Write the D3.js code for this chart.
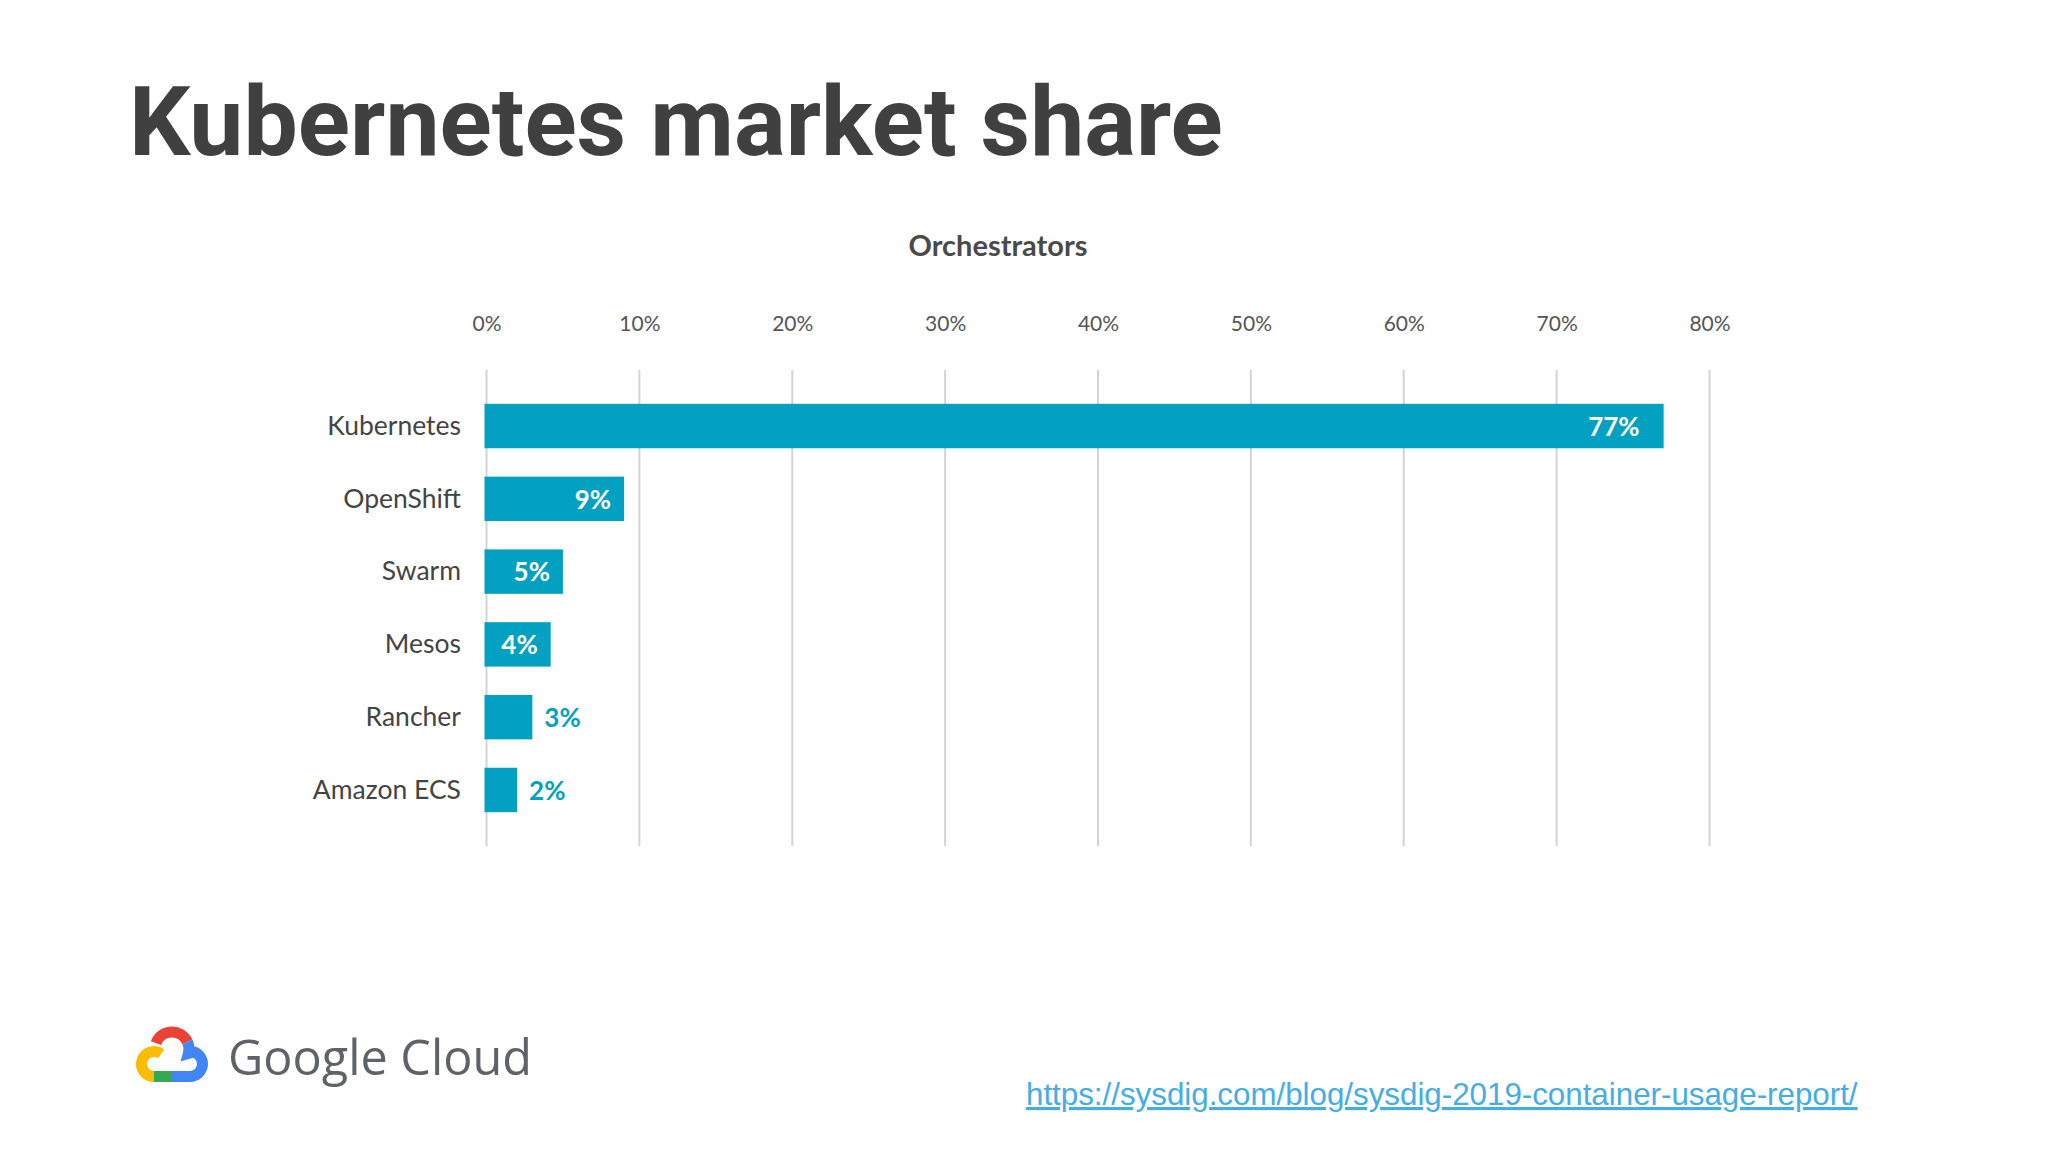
<!DOCTYPE html>
<html><head><meta charset="utf-8">
<script src="https://cdn.jsdelivr.net/npm/d3@7"></script>
<style>body{margin:0;background:#fff} svg{display:block}</style>
</head><body>
<svg id="c" width="2048" height="1152"></svg>
<script>
const categories = ["Kubernetes", "OpenShift", "Swarm", "Mesos", "Rancher", "Amazon ECS"];
const shares = [77, 9, 5, 4.2, 3, 2];
const valueLabels = ["77%", "9%", "5%", "4%", "3%", "2%"];
const tickValues = [0, 10, 20, 30, 40, 50, 60, 70, 80];
const tickLabels = ["0%", "10%", "20%", "30%", "40%", "50%", "60%", "70%", "80%"];

const svg = d3.select("#c");
const BAR = "#02a1c1";

// Slide title
const title = svg.append("text")
  .attr("x", 129).attr("y", 155)
  .attr("font-family", "Roboto, 'Open Sans', sans-serif")
  .attr("font-weight", 700).attr("font-size", 100)
  .attr("fill", "#404040")
  .text("Kubernetes market share");
const tw = title.node().getComputedTextLength();
title.attr("font-size", 100 * 1094 / tw);

// Chart title
svg.append("text")
  .attr("x", 998).attr("y", 256)
  .attr("text-anchor", "middle")
  .attr("font-family", "Lato, sans-serif")
  .attr("font-weight", 700).attr("font-size", 29)
  .attr("fill", "#4a4a4a")
  .text("Orchestrators");

const x = d3.scaleLinear().domain([0, 80]).range([486.5, 1709.5]);
const y = d3.scaleBand().domain(categories).range([382, 834]).paddingInner(0.39).paddingOuter(0.3);

// gridlines
svg.append("g").selectAll("line").data(tickValues).join("line")
  .attr("x1", d => x(d)).attr("x2", d => x(d))
  .attr("y1", 370).attr("y2", 846)
  .attr("stroke", "#d4d4d4").attr("stroke-width", 2);

// top axis labels
const axis = d3.axisTop(x).tickValues(tickValues).tickSize(0)
  .tickFormat((d, i) => tickLabels[i]);
const ax = svg.append("g").attr("transform", "translate(0,334)").call(axis);
ax.select(".domain").remove();
ax.selectAll("text")
  .attr("font-family", "Lato, sans-serif").attr("font-size", 21)
  .attr("fill", "#555").attr("dy", 0);

// category labels
svg.append("g").selectAll("text").data(categories).join("text")
  .attr("x", 461)
  .attr("y", d => y(d) + y.bandwidth() / 2)
  .attr("dy", "0.33em")
  .attr("text-anchor", "end")
  .attr("font-family", "Lato, sans-serif").attr("font-size", 26.5)
  .attr("fill", "#444")
  .text(d => d);

const rows = categories.map((c, i) => ({ c, v: shares[i], l: valueLabels[i] }));

svg.append("g").selectAll("rect").data(rows).join("rect")
  .attr("x", x(0) - 2)
  .attr("y", d => y(d.c))
  .attr("width", d => x(d.v) - x(0) + 2)
  .attr("height", y.bandwidth())
  .attr("fill", BAR);

svg.append("g").selectAll("text").data(rows).join("text")
  .attr("x", d => d.v >= 4 ? x(d.v) - (d.v > 50 ? 24 : 13) : x(d.v) + 12)
  .attr("y", d => y(d.c) + y.bandwidth() / 2)
  .attr("dy", "0.38em")
  .attr("text-anchor", d => d.v >= 4 ? "end" : "start")
  .attr("font-family", "Lato, sans-serif").attr("font-weight", 700).attr("font-size", 26)
  .attr("fill", d => d.v >= 4 ? "#fff" : BAR)
  .text(d => d.l);

// Google Cloud logo
const logo = svg.append("g").attr("transform", "translate(134,1025)").attr("fill", "none")
  .attr("stroke-width", 11).attr("stroke-linecap", "butt");
const rad = a => a * Math.PI / 180;
function arcPath(cx, cy, r, a0, a1) {
  const p = d3.path();
  p.arc(cx, cy, r, rad(a0), rad(a1), a1 < a0);
  return p.toString();
}
logo.append("path").attr("d", arcPath(38, 24, 17, 200, 335)).attr("stroke", "#ea4335");
{
  const p = d3.path();
  p.arc(38, 24, 17, rad(335), rad(375));
  p.arc(56, 39, 12.5, rad(285), rad(90));
  p.lineTo(38, 51.5);
  logo.append("path").attr("d", p.toString()).attr("stroke", "#4285f4");
}
{
  const p = d3.path();
  p.moveTo(38, 51.5); p.lineTo(20, 51.5);
  logo.append("path").attr("d", p.toString()).attr("stroke", "#34a853");
}
logo.append("path").attr("d", arcPath(20, 39, 12.5, 90, 305)).attr("stroke", "#fbbc04");

const gc = svg.append("text")
  .attr("x", 228).attr("y", 1075)
  .attr("font-family", "'Open Sans', Roboto, sans-serif").attr("font-size", 48)
  .attr("fill", "#5f6368")
  .text("Google Cloud");
const gw = gc.node().getComputedTextLength();
gc.attr("font-size", 48 * 304 / gw);

// Source URL
const url = svg.append("text")
  .attr("x", 1026).attr("y", 1105)
  .attr("font-family", "'Liberation Sans', Arial, sans-serif").attr("font-size", 28)
  .attr("fill", "#45ade6")
  .attr("text-decoration", "underline")
  .text("https://sysdig.com/blog/sysdig-2019-container-usage-report/");
const uw = url.node().getComputedTextLength();
url.attr("font-size", 28 * 832 / uw);
</script>
</body></html>
